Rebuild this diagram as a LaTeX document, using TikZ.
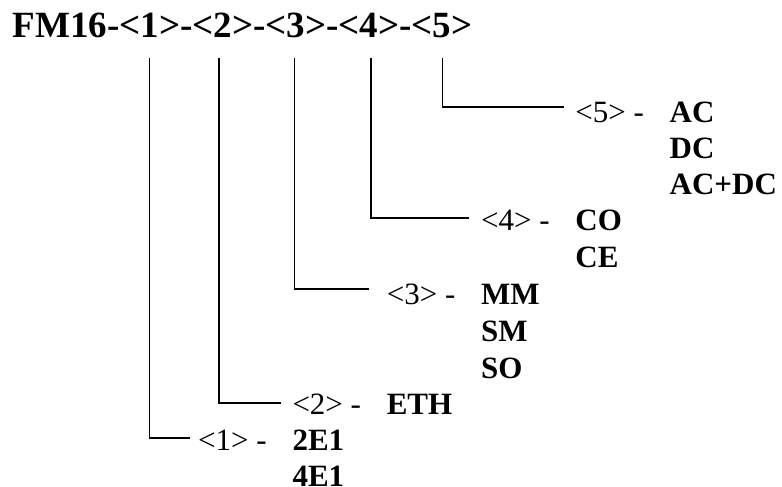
\documentclass[tikz,border=0pt]{standalone}
\usepackage{fontspec}
\setmainfont{Liberation Serif}
\begin{document}
\begin{tikzpicture}[x=1pt,y=-1pt,
  conn/.style={draw=black,line width=1.4pt},
  ttlstyle/.style={anchor=base west,inner sep=0pt,font=\fontsize{37}{40}\selectfont\bfseries},
  lbl/.style={anchor=base west,inner sep=0pt,font=\fontsize{31}{36}\selectfont},
  val/.style={anchor=base west,inner sep=0pt,font=\fontsize{31}{36}\selectfont\bfseries}]
\useasboundingbox (0,0) rectangle (782,487);
\node[ttlstyle] (ttl) at (12.5,38) {FM16-<1>-<2>-<3>-<4>-<5>};
\coordinate (t1) at (149.5,58);
\coordinate (t2) at (219,58);
\coordinate (t3) at (294.5,58);
\coordinate (t4) at (371,58);
\coordinate (t5) at (442.5,58);
% level 5
\node[lbl] (l5) at (575.2,122.5) {<5> -};
\node[val] (v5a) at (669.5,122.5) {AC};
\node[val] (v5b) at (669.5,158.5) {DC};
\node[val] (v5c) at (669.5,194.5) {AC+DC};
% level 4
\node[lbl] (l4) at (480.9,230.5) {<4> -};
\node[val] (v4a) at (575.2,230.5) {CO};
\node[val] (v4b) at (575.2,267.5) {CE};
% level 3
\node[lbl] (l3) at (386.6,304) {<3> -};
\node[val] (v3a) at (480.9,304) {MM};
\node[val] (v3b) at (480.9,341) {SM};
\node[val] (v3c) at (480.9,378) {SO};
% level 2
\node[lbl] (l2) at (292.3,414) {<2> -};
\node[val] (v2a) at (386.6,414) {ETH};
% level 1
\node[lbl] (l1) at (198,450) {<1> -};
\node[val] (v1a) at (292.3,450) {2E1};
\node[val] (v1b) at (292.3,486) {4E1};
% connectors
\draw[conn] (t5) |- ([xshift=-11pt,yshift=15.5pt]l5.base west);
\draw[conn] (t4) |- ([xshift=-12pt,yshift=12.5pt]l4.base west);
\draw[conn] (t3) |- ([xshift=-18pt,yshift=15pt]l3.base west);
\draw[conn] (t2) |- ([xshift=-11pt,yshift=11pt]l2.base west);
\draw[conn] (t1) |- ([xshift=-8pt,yshift=12pt]l1.base west);
\end{tikzpicture}
\end{document}
